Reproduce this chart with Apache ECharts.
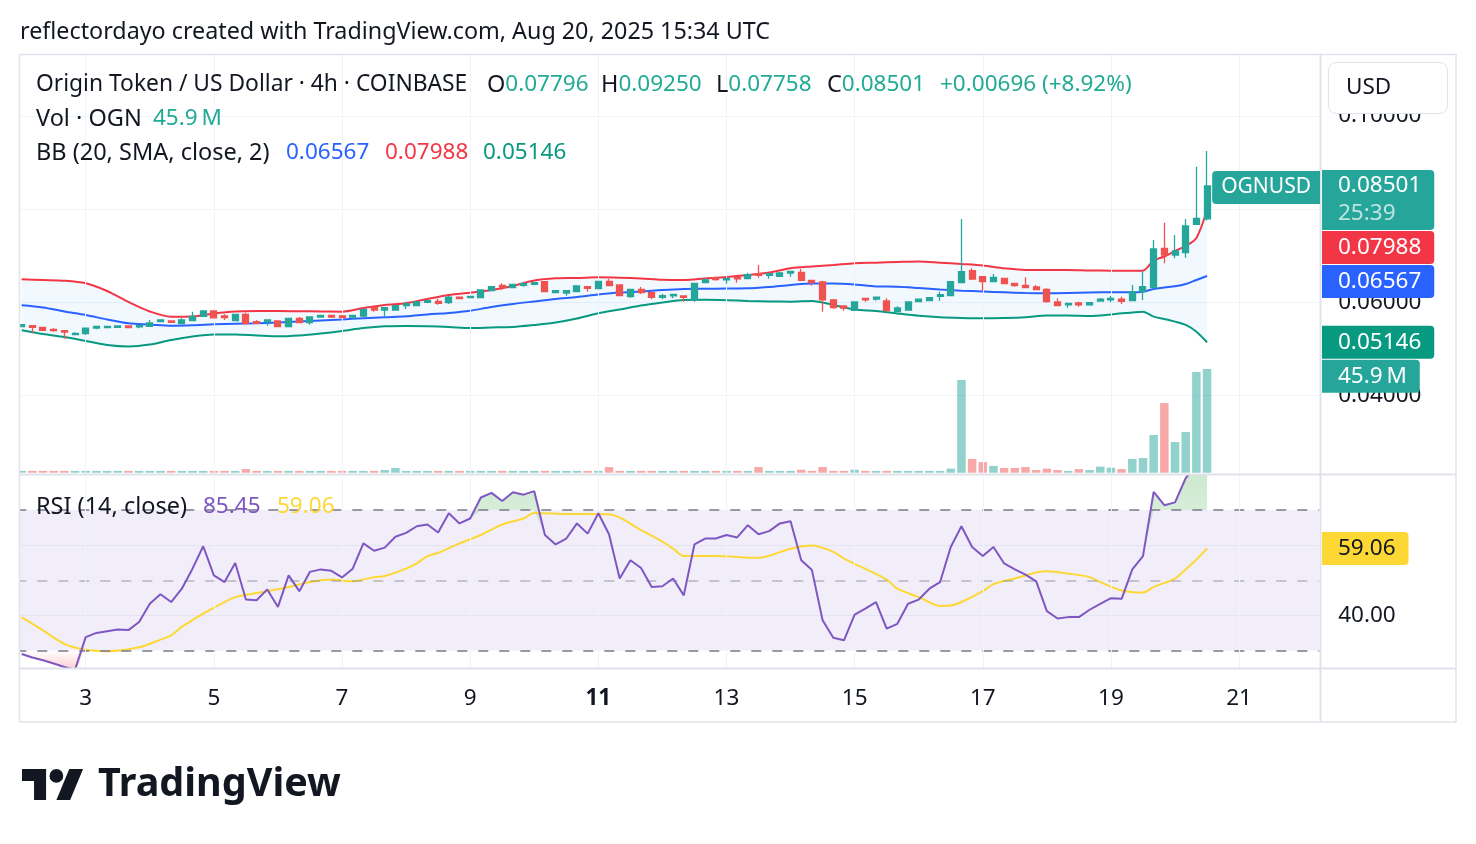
<!DOCTYPE html>
<html>
<head>
<meta charset="utf-8">
<title>OGNUSD 4h</title>
<script src="https://cdn.jsdelivr.net/npm/echarts@6/dist/echarts.min.js"></script>
<style>
  html, body { margin: 0; padding: 0; background: #fff; }
  #main { width: 1476px; height: 844px; }
</style>
</head>
<body>
<div id="main"></div>
<script>
// 4h candles from Aug 2 00:00 UTC to Aug 20 12:00 UTC, then empty slots on the right
const START = Date.UTC(2025, 7, 2, 0, 0);
const STEP = 4 * 3600 * 1000;
const SLOTS = 122;

const opens = [
  0.05481, 0.05503, 0.05468, 0.05425, 0.05395, 0.05310, 0.05331, 0.05453, 0.05460, 0.05468,
  0.05496, 0.05475, 0.05489, 0.05588, 0.05603, 0.05546, 0.05610, 0.05703, 0.05818, 0.05710,
  0.05610, 0.05742, 0.05588, 0.05582, 0.05603, 0.05481, 0.05661, 0.05567, 0.05689, 0.05725,
  0.05710, 0.05689, 0.05710, 0.05897, 0.05839, 0.05839, 0.05932, 0.05932, 0.06004, 0.06025,
  0.05996, 0.06112, 0.06103, 0.06103, 0.06253, 0.06369, 0.06318, 0.06369, 0.06390, 0.06447,
  0.06210, 0.06203, 0.06232, 0.06339, 0.06296, 0.06455, 0.06375, 0.06125, 0.06283, 0.06210,
  0.06112, 0.06140, 0.06140, 0.06054, 0.06425, 0.06532, 0.06483, 0.06540, 0.06511, 0.06618,
  0.06583, 0.06562, 0.06633, 0.06647, 0.06476, 0.06440, 0.06054, 0.05925, 0.05833, 0.06090,
  0.06075, 0.06032, 0.05803, 0.05839, 0.06017, 0.06039, 0.06133, 0.06146, 0.06425, 0.06682,
  0.06554, 0.06447, 0.06519, 0.06412, 0.06369, 0.06332, 0.06283, 0.06011, 0.05947, 0.05990,
  0.05947, 0.06032, 0.06054, 0.06069, 0.06039, 0.06232, 0.06318, 0.07163, 0.07019, 0.07069,
  0.07678, 0.07796
];
const highs = [
  0.05535, 0.05510, 0.05475, 0.05447, 0.05410, 0.05360, 0.05450, 0.05495, 0.05496, 0.05503,
  0.05503, 0.05515, 0.05625, 0.05632, 0.05610, 0.05661, 0.05803, 0.05825, 0.05825, 0.05749,
  0.05750, 0.05782, 0.05625, 0.05630, 0.05610, 0.05668, 0.05689, 0.05695, 0.05732, 0.05732,
  0.05732, 0.05730, 0.05860, 0.05905, 0.05897, 0.05940, 0.06017, 0.06020, 0.06045, 0.06082,
  0.06140, 0.06118, 0.06140, 0.06275, 0.06345, 0.06412, 0.06397, 0.06447, 0.06432, 0.06455,
  0.06260, 0.06260, 0.06365, 0.06345, 0.06462, 0.06505, 0.06382, 0.06290, 0.06332, 0.06247,
  0.06182, 0.06182, 0.06146, 0.06420, 0.06532, 0.06554, 0.06525, 0.06547, 0.06640, 0.06805,
  0.06625, 0.06655, 0.06675, 0.06719, 0.06483, 0.06468, 0.06075, 0.05932, 0.06018, 0.06097,
  0.06118, 0.06090, 0.05918, 0.06018, 0.06082, 0.06110, 0.06232, 0.06460, 0.07791, 0.06733,
  0.06560, 0.06611, 0.06525, 0.06418, 0.06540, 0.06375, 0.06304, 0.06090, 0.05990, 0.06018,
  0.06003, 0.06097, 0.06140, 0.06125, 0.06375, 0.06661, 0.07341, 0.07712, 0.07448, 0.07791,
  0.08913, 0.09250
];
const lows = [
  0.05470, 0.05338, 0.05395, 0.05374, 0.05224, 0.05305, 0.05303, 0.05425, 0.05455, 0.05462,
  0.05455, 0.05447, 0.05485, 0.05580, 0.05570, 0.05540, 0.05605, 0.05698, 0.05665, 0.05625,
  0.05605, 0.05540, 0.05548, 0.05503, 0.05475, 0.05475, 0.05560, 0.05524, 0.05682, 0.05668,
  0.05668, 0.05646, 0.05689, 0.05803, 0.05710, 0.05832, 0.05861, 0.05925, 0.05983, 0.05954,
  0.05968, 0.06075, 0.06097, 0.06097, 0.06247, 0.06275, 0.06310, 0.06340, 0.06385, 0.06225,
  0.06205, 0.06146, 0.06225, 0.06232, 0.06290, 0.06353, 0.06140, 0.06103, 0.06182, 0.06069,
  0.06069, 0.06090, 0.06017, 0.06017, 0.06418, 0.06468, 0.06403, 0.06425, 0.06505, 0.06532,
  0.06511, 0.06555, 0.06554, 0.06454, 0.06360, 0.05803, 0.05868, 0.05825, 0.05825, 0.06017,
  0.06039, 0.05818, 0.05796, 0.05832, 0.06011, 0.06032, 0.06039, 0.06140, 0.06418, 0.06483,
  0.06247, 0.06440, 0.06397, 0.06339, 0.06310, 0.06268, 0.05996, 0.05925, 0.05889, 0.05911,
  0.05932, 0.06025, 0.06004, 0.05968, 0.06032, 0.06054, 0.06310, 0.06841, 0.06948, 0.06961,
  0.07670, 0.07758
];
const closes = [
  0.05524, 0.05468, 0.05404, 0.05395, 0.05367, 0.05338, 0.05447, 0.05489, 0.05489, 0.05496,
  0.05460, 0.05510, 0.05560, 0.05625, 0.05575, 0.05625, 0.05703, 0.05818, 0.05671, 0.05675,
  0.05742, 0.05546, 0.05553, 0.05625, 0.05481, 0.05661, 0.05567, 0.05689, 0.05725, 0.05689,
  0.05675, 0.05725, 0.05854, 0.05839, 0.05890, 0.05932, 0.05968, 0.06011, 0.06039, 0.05983,
  0.06112, 0.06082, 0.06133, 0.06269, 0.06339, 0.06332, 0.06390, 0.06404, 0.06425, 0.06232,
  0.06253, 0.06254, 0.06354, 0.06304, 0.06455, 0.06360, 0.06146, 0.06283, 0.06210, 0.06112,
  0.06146, 0.06176, 0.06112, 0.06412, 0.06483, 0.06490, 0.06519, 0.06505, 0.06597, 0.06583,
  0.06618, 0.06633, 0.06669, 0.06476, 0.06425, 0.06054, 0.05889, 0.05882, 0.06011, 0.06054,
  0.06112, 0.05825, 0.05882, 0.06011, 0.06069, 0.06103, 0.06168, 0.06447, 0.06661, 0.06504,
  0.06447, 0.06540, 0.06404, 0.06360, 0.06318, 0.06275, 0.06017, 0.05932, 0.05983, 0.05947,
  0.05996, 0.06069, 0.06090, 0.06025, 0.06232, 0.06339, 0.07148, 0.07019, 0.07105, 0.07641,
  0.07805, 0.08501
];
// volume, millions of OGN
const volumes = [
  0.8, 0.8, 0.8, 0.8, 0.8, 0.8, 0.8, 0.8, 0.8, 0.8,
  0.8, 0.8, 0.8, 0.8, 0.8, 0.8, 0.8, 0.8, 0.8, 0.8,
  0.8, 1.6, 0.8, 0.8, 0.8, 0.8, 0.8, 0.8, 0.8, 0.8,
  0.8, 0.8, 0.8, 0.8, 1.2, 2.1, 0.8, 0.8, 0.8, 0.8,
  0.8, 0.8, 0.8, 0.8, 0.8, 0.8, 0.8, 0.8, 0.8, 0.8,
  0.8, 0.8, 0.8, 0.8, 0.8, 2.5, 0.8, 0.8, 0.8, 0.8,
  0.8, 0.8, 0.8, 0.8, 0.8, 0.8, 0.8, 0.8, 0.8, 2.5,
  0.8, 0.8, 0.8, 1.3, 0.8, 2.5, 0.8, 0.8, 1.3, 0.8,
  0.8, 0.8, 0.8, 0.8, 0.8, 0.8, 0.8, 1.8, 41.0, 6.1,
  4.7, 3.0, 2.1, 2.1, 2.5, 1.2, 1.8, 1.2, 0.8, 1.6,
  1.2, 2.7, 2.2, 1.6, 6.1, 6.5, 16.7, 30.8, 13.6, 18.0,
  44.6, 45.9
];

// Bollinger Bands (20, 2) at these candle slots
const bbIdx = [
  0, 2, 4, 6, 8, 10, 12, 14, 16, 18, 20, 22, 24, 26, 28, 30, 32, 34, 36, 38,
  40, 42, 44, 46, 48, 50, 52, 54, 56, 58, 60, 62, 64, 66, 68, 70, 72, 74, 76, 78,
  80, 82, 84, 86, 88, 90, 92, 94, 96, 98, 100, 102, 104, 105, 106, 107, 108, 109, 110, 111
];
const bbUpper = [
  0.06498, 0.06483, 0.06468, 0.06412, 0.06247, 0.06011, 0.05807, 0.05696, 0.05700, 0.05764,
  0.05807, 0.05818, 0.05818, 0.05812, 0.05807, 0.05803, 0.05882, 0.05947, 0.05983, 0.06075,
  0.06161, 0.06211, 0.06268, 0.06354, 0.06472, 0.06519, 0.06526, 0.06541, 0.06532, 0.06515,
  0.06487, 0.06483, 0.06515, 0.06547, 0.06590, 0.06644, 0.06734, 0.06773, 0.06805, 0.06841,
  0.06854, 0.06869, 0.06880, 0.06854, 0.06826, 0.06794, 0.06734, 0.06697, 0.06697, 0.06697,
  0.06687, 0.06683, 0.06683, 0.06683, 0.06901, 0.06987, 0.07105, 0.07212, 0.07384, 0.07988
];
const bbBasis = [
  0.05940, 0.05893, 0.05807, 0.05732, 0.05636, 0.05554, 0.05528, 0.05503, 0.05513, 0.05533,
  0.05546, 0.05554, 0.05571, 0.05593, 0.05614, 0.05636, 0.05661, 0.05683, 0.05704, 0.05743,
  0.05775, 0.05824, 0.05904, 0.05968, 0.06022, 0.06075, 0.06118, 0.06172, 0.06215, 0.06236,
  0.06268, 0.06290, 0.06294, 0.06299, 0.06303, 0.06333, 0.06376, 0.06408, 0.06408, 0.06386,
  0.06344, 0.06339, 0.06311, 0.06279, 0.06253, 0.06236, 0.06219, 0.06204, 0.06198, 0.06204,
  0.06215, 0.06219, 0.06219, 0.06232, 0.06290, 0.06322, 0.06348, 0.06397, 0.06483, 0.06567
];
const bbLower = [
  0.05406, 0.05325, 0.05260, 0.05175, 0.05089, 0.05057, 0.05099, 0.05196, 0.05271, 0.05314,
  0.05314, 0.05293, 0.05275, 0.05293, 0.05335, 0.05389, 0.05453, 0.05490, 0.05496, 0.05490,
  0.05475, 0.05453, 0.05464, 0.05475, 0.05518, 0.05571, 0.05657, 0.05769, 0.05850, 0.05936,
  0.06000, 0.06054, 0.06058, 0.06050, 0.06033, 0.06022, 0.06018, 0.06033, 0.05947, 0.05850,
  0.05818, 0.05764, 0.05715, 0.05683, 0.05668, 0.05661, 0.05668, 0.05685, 0.05722, 0.05722,
  0.05711, 0.05743, 0.05786, 0.05803, 0.05696, 0.05646, 0.05589, 0.05518, 0.05374, 0.05146
];

// RSI (14, close) per candle
const rsi = [
  29.0, 28.0, 27.2, 26.3, 25.3, 24.5, 33.8, 35.0, 35.5, 36.0,
  35.8, 38.1, 43.3, 46.0, 43.8, 47.6, 53.3, 59.7, 51.4, 49.5,
  54.9, 44.5, 44.3, 47.4, 42.4, 51.4, 46.9, 52.4, 53.1, 52.7,
  50.8, 53.3, 60.5, 58.4, 59.3, 62.4, 63.5, 65.4, 65.9, 63.6,
  69.1, 66.2, 67.6, 73.6, 74.9, 72.6, 75.1, 74.4, 75.4, 62.9,
  60.2, 61.9, 66.2, 63.3, 69.1, 63.1, 50.5, 55.7, 53.5, 48.1,
  48.3, 50.5, 45.7, 60.2, 61.9, 61.9, 62.9, 62.2, 65.7, 63.1,
  64.0, 66.2, 66.8, 55.7, 52.9, 38.6, 33.6, 32.9, 40.2, 41.9,
  43.8, 36.2, 37.6, 43.3, 44.5, 47.6, 49.5, 59.5, 65.4, 59.5,
  56.9, 59.5, 54.8, 53.1, 51.6, 49.7, 41.2, 39.1, 39.5, 39.5,
  41.6, 43.3, 44.9, 44.7, 53.1, 56.9, 75.2, 71.4, 72.2, 79.1,
  83.0, 85.45
];
// RSI-based moving average, read at these slots
const rsiMaIdx = [
  0, 2, 4, 6, 8, 11, 13, 14, 15, 17, 19, 20, 23, 25, 27, 29, 31, 33, 34, 36,
  37, 38, 39, 41, 43, 45, 47, 48, 51, 55, 58, 60, 61, 62, 65, 69, 72, 74, 76, 77,
  81, 82, 84, 86, 87, 88, 90, 91, 93, 95, 96, 98, 100, 101, 103, 105, 106, 108, 109, 110,
  111
];
const rsiMa = [
  39.5, 35.7, 31.9, 30.2, 29.8, 30.9, 33.1, 34.3, 36.7, 40.5, 43.8, 45.2, 46.9, 48.1, 49.5, 50.2, 49.7, 50.9, 51.2, 53.3,
  54.8, 56.9, 57.8, 60.5, 62.9, 65.9, 67.6, 69.2, 68.9, 68.8, 64.3, 61.0, 59.0, 56.9, 56.9, 56.4, 59.0, 59.9, 58.1, 56.2,
  50.2, 47.6, 45.2, 42.7, 42.8, 43.8, 46.9, 48.9, 50.5, 52.2, 52.6, 51.9, 50.9, 49.5, 47.1, 46.5, 48.1, 50.5, 53.1, 55.9,
  59.06
];

const priceTicks = [0.04, 0.06, 0.08, 0.10];
const rsiGridTicks = [40, 60];
const rsiLabelTicks = [40];
const countdown = '25:39';

// ---- styling ----
const FONT = '"Noto Sans", sans-serif';
const TEXT = '#131722';
const UP = '#26a69a', DOWN = '#ef5350';
const UP_VOL = 'rgba(38,166,154,0.5)', DOWN_VOL = 'rgba(239,83,80,0.5)';
const GRID_LINE = '#f0f3fa', BORDER = '#e0e3eb';
const LEGEND_UP = '#22ab94';
const C_UPPER = '#f23645', C_BASIS = '#2962ff', C_LOWER = '#089981';
const C_RSI = '#7e57c2', C_MA = '#fdd835';
const AX = 22.5;   // axis labels, tags, legend numbers
const LEG = 23.5;  // legend words

const categories = [];
for (let i = 0; i < SLOTS; i++) categories.push(String(START + i * STEP));
const isDayLabel = v => {
  const d = new Date(+v);
  return d.getUTCHours() === 0 && d.getUTCDate() % 2 === 1;
};
const dayLines = categories.filter(isDayLabel).map(v => ({ xAxis: v }));

const pairs = (idx, vals) => idx.map((x, k) => [x, vals[k]]);
const last = a => a[a.length - 1];

const GRID_L = 16.3, GRID_R = 156.8;

const option = {
  animation: false,
  backgroundColor: '#ffffff',
  grid: [
    { left: GRID_L, right: GRID_R, top: 55, height: 419, outerBoundsMode: 'none' },
    { left: GRID_L, right: GRID_R, top: 369, height: 103.7, outerBoundsMode: 'none' },
    { left: GRID_L, right: GRID_R, top: 475, height: 193, outerBoundsMode: 'none' }
  ],
  xAxis: [
    { type: 'category', gridIndex: 0, data: categories, boundaryGap: true,
      axisLine: { show: false }, axisTick: { show: false }, axisLabel: { show: false }, splitLine: { show: false } },
    { type: 'category', gridIndex: 1, data: categories, boundaryGap: true, show: false },
    { type: 'category', gridIndex: 2, data: categories, boundaryGap: true,
      axisLine: { show: false }, axisTick: { show: false }, splitLine: { show: false },
      axisLabel: {
        interval: (i, v) => isDayLabel(v),
        margin: 19,
        color: TEXT, fontFamily: FONT, fontSize: AX,
        formatter: v => {
          const day = new Date(+v).getUTCDate();
          return day === 11 ? '{b|' + day + '}' : String(day);
        },
        rich: { b: { fontWeight: 'bold', fontFamily: FONT, fontSize: AX, color: TEXT } }
      } }
  ],
  yAxis: [
    { type: 'value', gridIndex: 0, position: 'right', min: 0.0232, max: 0.1131,
      axisLine: { show: false },
      axisTick: { show: false, customValues: priceTicks },
      axisLabel: { customValues: priceTicks, margin: 19, color: TEXT, fontFamily: FONT, fontSize: AX,
        formatter: v => v.toFixed(5) },
      splitLine: { show: true, lineStyle: { color: GRID_LINE, width: 1 } } },
    { type: 'value', gridIndex: 1, min: 0, max: 'dataMax', show: false, splitLine: { show: false } },
    { type: 'value', gridIndex: 2, position: 'right', min: 25, max: 80,
      axisLine: { show: false },
      axisTick: { show: false, customValues: rsiGridTicks },
      axisLabel: { customValues: rsiLabelTicks, margin: 19, color: TEXT, fontFamily: FONT, fontSize: AX,
        formatter: v => v.toFixed(2) },
      splitLine: { show: true, lineStyle: { color: GRID_LINE, width: 1 } } }
  ],
  series: [
    // volume
    { name: 'Vol', type: 'bar', xAxisIndex: 1, yAxisIndex: 1, barWidth: 8.5, silent: true, z: 1,
      data: volumes.map((v, i) => ({ value: v, itemStyle: { color: closes[i] >= opens[i] ? UP_VOL : DOWN_VOL } })) },
    // BB band fill: lower (hidden) + (upper - lower) stacked; also carries the vertical gridlines
    { name: 'bbLowerBase', type: 'line', xAxisIndex: 0, yAxisIndex: 0, stack: 'bb', silent: true, z: 1,
      data: pairs(bbIdx, bbLower), showSymbol: false, symbol: 'none', lineStyle: { opacity: 0 },
      markLine: { silent: true, symbol: ['none', 'none'], label: { show: false },
        lineStyle: { color: GRID_LINE, type: 'solid', width: 1 }, data: dayLines } },
    { name: 'bbFill', type: 'line', xAxisIndex: 0, yAxisIndex: 0, stack: 'bb', silent: true, z: 2,
      data: bbIdx.map((x, k) => [x, bbUpper[k] - bbLower[k]]), showSymbol: false, symbol: 'none',
      lineStyle: { opacity: 0 }, areaStyle: { color: 'rgba(33,150,243,0.06)', opacity: 1 } },
    { name: 'BB upper', type: 'line', xAxisIndex: 0, yAxisIndex: 0, z: 3, silent: true,
      data: pairs(bbIdx, bbUpper), showSymbol: false, symbol: 'none', smooth: 0.3,
      lineStyle: { color: C_UPPER, width: 2 } },
    { name: 'BB basis', type: 'line', xAxisIndex: 0, yAxisIndex: 0, z: 3, silent: true,
      data: pairs(bbIdx, bbBasis), showSymbol: false, symbol: 'none', smooth: 0.3,
      lineStyle: { color: C_BASIS, width: 2 } },
    { name: 'BB lower', type: 'line', xAxisIndex: 0, yAxisIndex: 0, z: 3, silent: true,
      data: pairs(bbIdx, bbLower), showSymbol: false, symbol: 'none', smooth: 0.3,
      lineStyle: { color: C_LOWER, width: 2 } },
    // candles
    { name: 'OGNUSD', type: 'candlestick', xAxisIndex: 0, yAxisIndex: 0, z: 5, barWidth: 6.5, silent: true,
      data: opens.map((o, i) => [o, closes[i], lows[i], highs[i]]),
      itemStyle: { color: UP, color0: DOWN, borderColor: UP, borderColor0: DOWN, borderWidth: 1.3 } },
    // RSI: oversold fill (hidden base + band), also carries band, level lines and gridlines
    { name: 'osBase', type: 'line', xAxisIndex: 2, yAxisIndex: 2, stack: 'os', silent: true, z: 1,
      data: rsi.map(v => Math.min(v, 30)), showSymbol: false, symbol: 'none', lineStyle: { opacity: 0 },
      markArea: { silent: true, itemStyle: { color: 'rgba(126,87,194,0.1)' },
        data: [[{ yAxis: 30 }, { yAxis: 70 }]] },
      markLine: { silent: true, symbol: ['none', 'none'], label: { show: false },
        data: [
          { yAxis: 70, lineStyle: { color: '#787b86', type: [10, 11], width: 1.5 } },
          { yAxis: 50, lineStyle: { color: 'rgba(120,123,134,0.5)', type: [10, 11], width: 1.5 } },
          { yAxis: 30, lineStyle: { color: '#787b86', type: [10, 11], width: 1.5 } }
        ].concat(dayLines.map(d => Object.assign({ lineStyle: { color: GRID_LINE, type: 'solid', width: 1 } }, d))) } },
    { name: 'osFill', type: 'line', xAxisIndex: 2, yAxisIndex: 2, stack: 'os', silent: true, z: 2,
      data: rsi.map(v => 30 - Math.min(v, 30)), showSymbol: false, symbol: 'none', lineStyle: { opacity: 0 },
      areaStyle: { opacity: 1, color: new echarts.graphic.LinearGradient(0, 0, 0, 1, [
        { offset: 0, color: 'rgba(242,54,69,0)' }, { offset: 1, color: 'rgba(242,54,69,0.25)' }]) } },
    { name: 'obBase', type: 'line', xAxisIndex: 2, yAxisIndex: 2, stack: 'ob', silent: true, z: 1,
      data: rsi.map(v => Math.min(v, 70)), showSymbol: false, symbol: 'none', lineStyle: { opacity: 0 } },
    { name: 'obFill', type: 'line', xAxisIndex: 2, yAxisIndex: 2, stack: 'ob', silent: true, z: 2,
      data: rsi.map(v => Math.max(v - 70, 0)), showSymbol: false, symbol: 'none', lineStyle: { opacity: 0 },
      areaStyle: { opacity: 1, color: new echarts.graphic.LinearGradient(0, 0, 0, 1, [
        { offset: 0, color: 'rgba(76,175,80,0.3)' }, { offset: 1, color: 'rgba(76,175,80,0)' }]) } },
    { name: 'RSI MA', type: 'line', xAxisIndex: 2, yAxisIndex: 2, z: 4, silent: true,
      data: pairs(rsiMaIdx, rsiMa), showSymbol: false, symbol: 'none', smooth: 0.3,
      lineStyle: { color: C_MA, width: 2 } },
    { name: 'RSI', type: 'line', xAxisIndex: 2, yAxisIndex: 2, z: 5, silent: true,
      data: rsi, showSymbol: false, symbol: 'none',
      lineStyle: { color: C_RSI, width: 2 } }
  ]
};

const chart = echarts.init(document.getElementById('main'));
chart.setOption(option);

// ---- text, frame and price tags ----
const txt = (x, y, text, size, fill, extra) => ({
  type: 'text', x, y, z: 100, silent: true,
  style: Object.assign({ text, font: size + 'px ' + FONT, fill, verticalAlign: 'middle' }, extra || {})
});
const pair = (x, y, key, val, keyColor, valColor) => ({
  type: 'text', x, y, z: 100, silent: true,
  style: { text: '{k|' + key + '}{v|' + val + '}', verticalAlign: 'middle',
    rich: { k: { fill: keyColor, font: LEG + 'px ' + FONT }, v: { fill: valColor, font: AX + 'px ' + FONT } } }
});
const hline = (x1, x2, y, w) => ({ type: 'line', z: 95, silent: true,
  shape: { x1, y1: y, x2, y2: y }, style: { stroke: BORDER, lineWidth: w } });
const vline = (x, y1, y2, w) => ({ type: 'line', z: 95, silent: true,
  shape: { x1: x, y1, x2: x, y2 }, style: { stroke: BORDER, lineWidth: w } });

function buildGraphic() {
  const pY = v => chart.convertToPixel({ yAxisIndex: 0 }, v);
  const vY = v => chart.convertToPixel({ yAxisIndex: 1 }, v);
  const rY = v => chart.convertToPixel({ yAxisIndex: 2 }, v);
  const g = [];

  // mask left of the pane border
  g.push({ type: 'rect', z: 90, silent: true, shape: { x: 0, y: 54, width: 19.5, height: 669 }, style: { fill: '#fff' } });
  // frame + pane separators
  g.push(hline(19.5, 1456, 54.5, 1.5), hline(19.5, 1456, 722, 1.5));
  g.push(vline(19.5, 54, 722, 1.5), vline(1456, 54, 722, 1.5), vline(1320.5, 54, 722, 2));
  g.push(hline(19.5, 1456, 474.5, 2), hline(19.5, 1456, 668.5, 2));

  // header
  g.push(txt(20, 32, 'reflectordayo created with TradingView.com, Aug 20, 2025 15:34 UTC', 23.3, TEXT));

  // legend lines
  const n = opens.length - 1;
  const chg = closes[n] - closes[n - 1];
  g.push(txt(36, 85, 'Origin Token / US Dollar · 4h · COINBASE', 22.8, TEXT));
  g.push(pair(487, 85, 'O', opens[n].toFixed(5), TEXT, LEGEND_UP));
  g.push(pair(601, 85, 'H', highs[n].toFixed(5), TEXT, LEGEND_UP));
  g.push(pair(716, 85, 'L', lows[n].toFixed(5), TEXT, LEGEND_UP));
  g.push(pair(827, 85, 'C', closes[n].toFixed(5), TEXT, LEGEND_UP));
  g.push(txt(940, 85, '+' + chg.toFixed(5) + ' (+' + (chg / closes[n - 1] * 100).toFixed(2) + '%)', AX, LEGEND_UP));
  g.push(txt(36, 119, 'Vol · OGN', LEG, TEXT));
  g.push(txt(153, 119, last(volumes).toFixed(1) + '\u2009M', AX, LEGEND_UP));
  g.push(txt(36, 153, 'BB (20, SMA, close, 2)', LEG, TEXT));
  g.push(txt(286, 153, last(bbBasis).toFixed(5), AX, C_BASIS));
  g.push(txt(385, 153, last(bbUpper).toFixed(5), AX, C_UPPER));
  g.push(txt(483, 153, last(bbLower).toFixed(5), AX, C_LOWER));
  g.push(txt(36, 507, 'RSI (14, close)', LEG, TEXT));
  g.push(txt(203, 507, last(rsi).toFixed(2), AX, C_RSI));
  g.push(txt(277, 507, last(rsiMa).toFixed(2), AX, C_MA));

  // currency button
  g.push({ type: 'rect', z: 100, silent: true, shape: { x: 1328.5, y: 62.5, width: 119, height: 51, r: 8 },
    style: { fill: '#fff', stroke: BORDER, lineWidth: 1 } });
  g.push(txt(1346, 88, 'USD', AX, TEXT));

  // price-scale tags, pushed down when they would overlap
  const tagFont = AX + 'px ' + FONT;
  const tags = [
    { y: pY(closes[n]), h: 60, up: 16, bg: UP, lines: [closes[n].toFixed(5), countdown], main: true },
    { y: pY(last(bbUpper)), h: 33, up: 16.5, bg: C_UPPER, lines: [last(bbUpper).toFixed(5)] },
    { y: pY(last(bbBasis)), h: 33, up: 16.5, bg: C_BASIS, lines: [last(bbBasis).toFixed(5)] },
    { y: pY(last(bbLower)), h: 33, up: 16.5, bg: C_LOWER, lines: [last(bbLower).toFixed(5)] },
    { y: vY(last(volumes)), h: 33, up: 16.5, bg: UP, lines: [last(volumes).toFixed(1) + '\u2009M'] }
  ];
  let bottom = -Infinity;
  tags.forEach(t => {
    const top = Math.max(t.y - t.up, bottom + 1);
    bottom = top + t.h;
    if (t.main) {
      g.push({ type: 'text', x: 1322, y: top, z: 101, silent: true, style: {
        text: '{p|' + t.lines[0] + '}\n{t|' + t.lines[1] + '}', verticalAlign: 'top',
        backgroundColor: t.bg, padding: [2, 13, 2, 16], borderRadius: [0, 4, 4, 0],
        rich: { p: { fill: '#fff', font: tagFont, lineHeight: 28 },
                t: { fill: 'rgba(255,255,255,0.7)', font: tagFont, lineHeight: 28 } } } });
      g.push({ type: 'text', x: 1320, y: top + 1, z: 101, silent: true, style: {
        text: 'OGNUSD', font: '21px ' + FONT, fill: '#fff', align: 'right', verticalAlign: 'top', lineHeight: 21,
        backgroundColor: t.bg, padding: [6, 9, 6, 9], borderRadius: [4, 0, 0, 4] } });
    } else {
      g.push({ type: 'text', x: 1322, y: top, z: 101, silent: true, style: {
        text: t.lines[0], font: tagFont, fill: '#fff', verticalAlign: 'top', lineHeight: 21,
        backgroundColor: t.bg, padding: [6, 13, 6, 16], borderRadius: [0, 4, 4, 0] } });
    }
  });
  // RSI MA tag
  const ry = rY(last(rsiMa));
  g.push({ type: 'text', x: 1322, y: ry - 16.5, z: 101, silent: true, style: {
    text: last(rsiMa).toFixed(2), font: tagFont, fill: TEXT, verticalAlign: 'top', lineHeight: 21,
    backgroundColor: C_MA, padding: [6, 13, 6, 16], borderRadius: [0, 4, 4, 0] } });

  // TradingView logo
  g.push({ type: 'group', x: 22, y: 762.2, scaleX: 1.72, scaleY: 1.72, z: 100, silent: true, children: [
    { type: 'polygon', shape: { points: [[14, 22], [7, 22], [7, 11], [0, 11], [0, 4], [14, 4]] }, style: { fill: TEXT } },
    { type: 'polygon', shape: { points: [[28, 22], [20, 22], [27.5, 4], [35.5, 4]] }, style: { fill: TEXT } },
    { type: 'circle', shape: { cx: 20, cy: 8, r: 4 }, style: { fill: TEXT } }
  ] });
  g.push(txt(98, 785, 'TradingView', 39.5, TEXT, { font: 'bold 39.5px ' + FONT }));
  return g;
}

chart.setOption({ graphic: buildGraphic() });
</script>
</body>
</html>
